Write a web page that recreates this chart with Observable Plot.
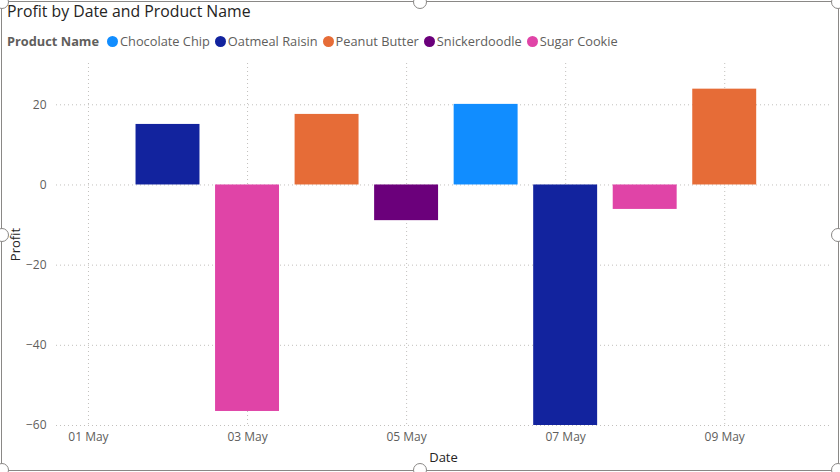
<!DOCTYPE html>
<html>
<head>
<meta charset="utf-8">
<script src="https://cdn.jsdelivr.net/npm/d3@7"></script>
<script src="https://cdn.jsdelivr.net/npm/@observablehq/plot@0.6"></script>
<style>
  html, body { margin: 0; padding: 0; background: #fff; }
  #frame { position: relative; width: 840px; height: 472px; overflow: hidden; font-family: "Open Sans", sans-serif; }
  #border { position: absolute; left: 1px; top: 1px; width: 836px; height: 468px; border: 1px solid #8a8886; border-radius: 4px; pointer-events: none; }
  .handle { position: absolute; width: 12px; height: 12px; border-radius: 50%; background: #fff; border: 1px solid #8a8886; }
  #title { position: absolute; left: 7px; top: 0px; font-size: 15.8px; color: #252423; white-space: nowrap; }
  #legend { position: absolute; left: 7px; top: 32px; font-size: 12.8px; color: #605e5c; white-space: nowrap; display: flex; align-items: center; }
  #legend .lt { font-weight: bold; margin-right: 8px; }
  #legend .it { display: flex; align-items: center; margin-right: 5px; }
  #legend .sw { width: 11px; height: 11px; border-radius: 50%; margin-right: 2px; }
  #chart { position: absolute; left: 0; top: 50px; }
</style>
</head>
<body>
<div id="frame">
  <div id="title">Profit by Date and Product Name</div>
  <div id="legend"></div>
  <div id="chart"></div>
  <div id="border"></div>
</div>
<script>
// Data
const dates = ["2024-05-02", "2024-05-03", "2024-05-04", "2024-05-05", "2024-05-06", "2024-05-07", "2024-05-08", "2024-05-09"];
const products = ["Oatmeal Raisin", "Sugar Cookie", "Peanut Butter", "Snickerdoodle", "Chocolate Chip", "Oatmeal Raisin", "Sugar Cookie", "Peanut Butter"];
const profits = [15.1, -56.5, 17.6, -8.9, 20.1, -60, -6.1, 23.9];

const legendNames = ["Chocolate Chip", "Oatmeal Raisin", "Peanut Butter", "Snickerdoodle", "Sugar Cookie"];
const legendColors = ["#118DFF", "#12239E", "#E66C37", "#6B007B", "#E044A7"];

const xTickDates = ["2024-05-01", "2024-05-03", "2024-05-05", "2024-05-07", "2024-05-09"];
const yTicks = [-60, -40, -20, 0, 20];

const DAY = 864e5;
const data = dates.map((d, i) => ({ date: new Date(d), product: products[i], profit: profits[i] }));
const xTicks = xTickDates.map(d => new Date(d));

// legend
const leg = document.getElementById("legend");
leg.innerHTML = `<span class="lt">Product Name</span>` +
  legendNames.map((n, i) => `<span class="it"><span class="sw" style="background:${legendColors[i]}"></span>${n}</span>`).join("");

// handles
const frame = document.getElementById("frame");
[[420, 2], [2, 235], [838, 235], [420, 470], [2, 470], [838, 470], [838, 2], [2, 2]].forEach(([x, y]) => {
  const h = document.createElement("div");
  h.className = "handle";
  h.style.left = (x - 7) + "px";
  h.style.top = (y - 7) + "px";
  frame.appendChild(h);
});

const chart = Plot.plot({
  width: 840,
  height: 422,
  marginTop: 13,
  marginBottom: 47,
  marginLeft: 56,
  marginRight: 10,
  style: { fontFamily: "Open Sans, sans-serif", fontSize: "12px", color: "#605e5c", background: "transparent" },
  x: { type: "utc", domain: [new Date(+xTicks[0] - 0.402 * DAY), new Date(+xTicks[4] + 1.33 * DAY)] },
  y: { domain: [-60, 30.3] },
  color: { domain: legendNames, range: legendColors },
  marks: [
    Plot.gridY(yTicks, { stroke: "#b3b0ad", strokeOpacity: 0.8, strokeDasharray: "1,3" }),
    Plot.gridX(xTicks, { stroke: "#b3b0ad", strokeOpacity: 0.8, strokeDasharray: "1,3" }),
    Plot.rectY(data, {
      x1: d => new Date(+d.date - 0.402 * DAY),
      x2: d => new Date(+d.date + 0.402 * DAY),
      y1: 0,
      y2: "profit",
      fill: "product"
    }),
    Plot.axisY(yTicks, { tickSize: 0, tickPadding: 10, label: "Profit", labelAnchor: "center", labelArrow: "none", labelOffset: 46, fill: "#605e5c", fontSize: 12 }),
    Plot.axisX(xTicks, { tickSize: 0, tickPadding: 7, tickFormat: d3.utcFormat("%d %b"), label: "Date", labelAnchor: "center", labelArrow: "none", labelOffset: 36, fill: "#605e5c", fontSize: 12 })
  ]
});
document.getElementById("chart").appendChild(chart);
// style the axis titles darker
chart.querySelectorAll("g[aria-label='y-axis label'] text, g[aria-label='x-axis label'] text").forEach(t => {
  t.setAttribute("fill", "#252423");
  t.style.fontSize = "13px";
});
</script>
</body>
</html>
